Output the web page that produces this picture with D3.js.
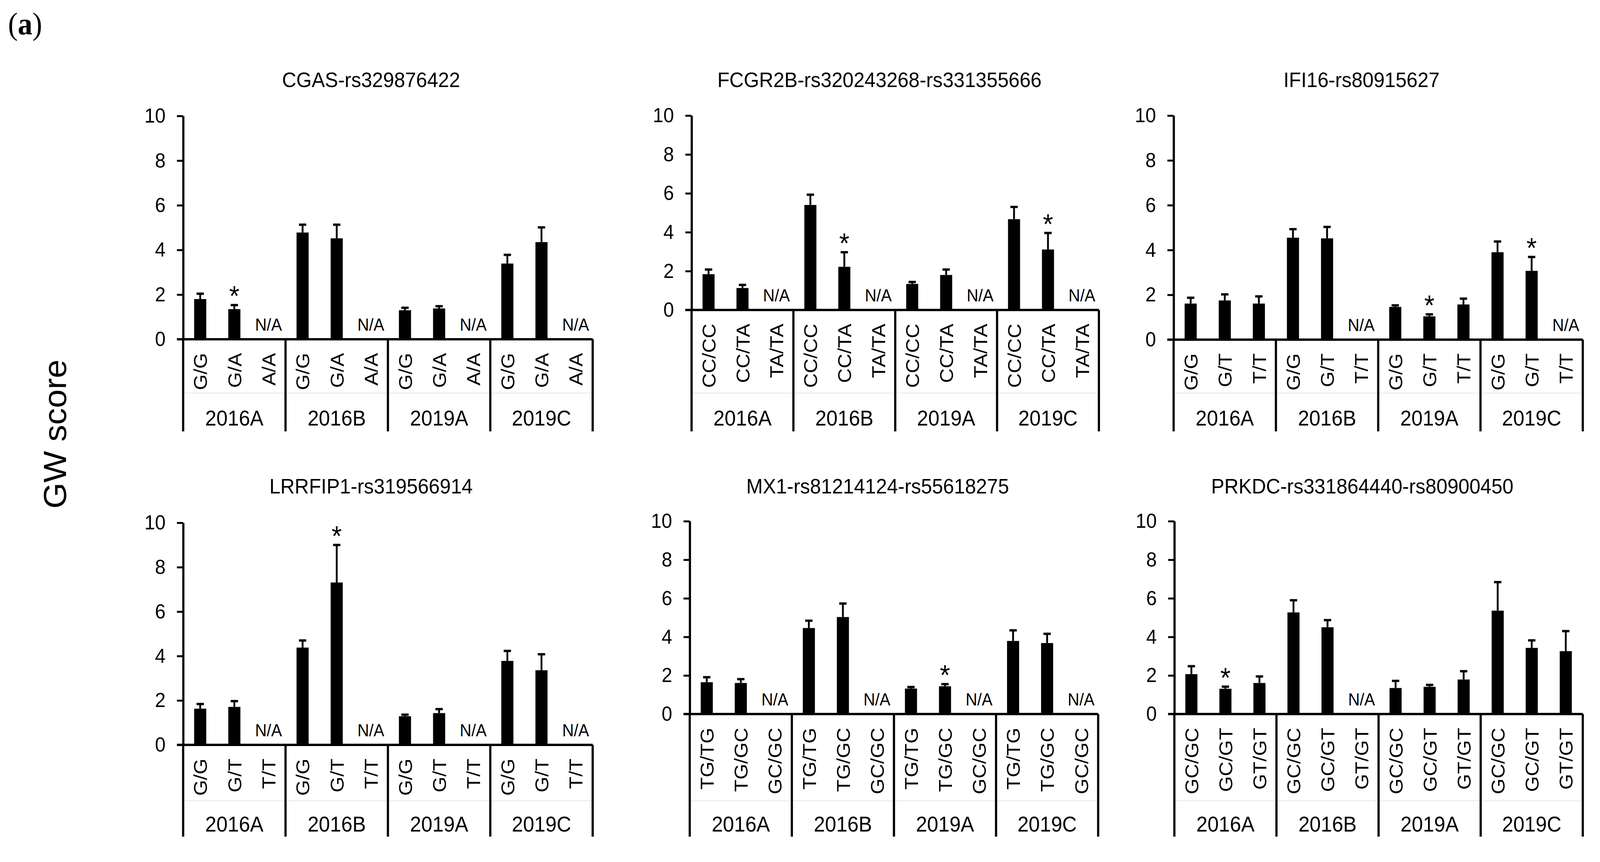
<!doctype html>
<html>
<head>
  <meta charset="utf-8">
  <title>GW score by genotype</title>
  <script src="https://d3js.org/d3.v7.min.js"></script>
  <style>
    html, body { margin: 0; padding: 0; background: #fff; overflow: hidden; width: 100%; height: 100%; }
    #container { width: 100vw; height: 100vh; }
    svg { display: block; }
    svg text { font-family: "Liberation Sans", Arial, sans-serif; fill: #000; }
  </style>
</head>
<body>
<div id="container"></div>
<script>
// ---- data ----
var groups = ["2016A", "2016B", "2019A", "2019C"];
var yTicks = [0, 2, 4, 6, 8, 10];

var titles = [
  "CGAS-rs329876422",
  "FCGR2B-rs320243268-rs331355666",
  "IFI16-rs80915627",
  "LRRFIP1-rs319566914",
  "MX1-rs81214124-rs55618275",
  "PRKDC-rs331864440-rs80900450"
];

var genotypes = [
  ["G/G", "G/A", "A/A"],
  ["CC/CC", "CC/TA", "TA/TA"],
  ["G/G", "G/T", "T/T"],
  ["G/G", "G/T", "T/T"],
  ["TG/TG", "TG/GC", "GC/GC"],
  ["GC/GC", "GC/GT", "GT/GT"]
];

// mean GW score per genotype within each group (null = N/A)
var means = [
  [1.80, 1.35, null, 4.78, 4.52, null, 1.30, 1.38, null, 3.39, 4.35, null],
  [1.84, 1.13, null, 5.40, 2.22, null, 1.34, 1.80, null, 4.67, 3.11, null],
  [1.61, 1.75, 1.61, 4.55, 4.52, null, 1.46, 1.04, 1.57, 3.90, 3.07, null],
  [1.63, 1.71, null, 4.38, 7.31, null, 1.29, 1.43, null, 3.78, 3.36, null],
  [1.65, 1.61, null, 4.46, 5.03, null, 1.32, 1.44, null, 3.79, 3.68, null],
  [2.07, 1.31, 1.61, 5.27, 4.50, null, 1.35, 1.41, 1.79, 5.36, 3.43, 3.26]
];

// standard errors (upper error bar)
var errors = [
  [0.24, 0.18, null, 0.35, 0.61, null, 0.11, 0.10, null, 0.39, 0.66, null],
  [0.24, 0.16, null, 0.53, 0.75, null, 0.10, 0.28, null, 0.63, 0.85, null],
  [0.26, 0.27, 0.32, 0.38, 0.51, null, 0.07, 0.09, 0.26, 0.48, 0.62, null],
  [0.21, 0.26, null, 0.32, 1.69, null, 0.07, 0.18, null, 0.45, 0.72, null],
  [0.26, 0.20, null, 0.38, 0.70, null, 0.08, 0.11, null, 0.55, 0.48, null],
  [0.41, 0.11, 0.34, 0.63, 0.37, null, 0.37, 0.10, 0.43, 1.48, 0.39, 1.04]
];

// bars flagged with an asterisk (index into the 12 bars)
var stars = [[1], [4, 10], [7, 10], [4], [7], [1]];

// ---- layout (pixel frame of each panel, in a 4368 x 2208 drawing space) ----
var W = 4368, H = 2208;
var layout = [
  {x0: 500,  x1: 1618, yTop: 297,  yZero: 869,  yMid: 1007, yEnd: 1105, groupY: 1090, titleY: 223},
  {x0: 1888, x1: 3000, yTop: 296,  yZero: 794,  yMid: 1007, yEnd: 1105, groupY: 1090, titleY: 223},
  {x0: 3204, x1: 4321, yTop: 296,  yZero: 870,  yMid: 1007, yEnd: 1105, groupY: 1090, titleY: 223},
  {x0: 500,  x1: 1618, yTop: 1339, yZero: 1908, yMid: 2051, yEnd: 2143, groupY: 2130, titleY: 1264},
  {x0: 1883, x1: 2998, yTop: 1335, yZero: 1829, yMid: 2051, yEnd: 2143, groupY: 2130, titleY: 1264},
  {x0: 3206, x1: 4321, yTop: 1335, yZero: 1829, yMid: 2051, yEnd: 2143, groupY: 2130, titleY: 1264}
];

// scale the fixed drawing space to whatever the viewport really is
var svg = d3.select("#container").append("svg")
  .attr("width", "100%").attr("height", "100%")
  .attr("viewBox", "0 0 " + W + " " + H)
  .attr("preserveAspectRatio", "none");

svg.append("rect").attr("width", W).attr("height", H).attr("fill", "#fff");

// panel tag
var tag = svg.append("text")
  .attr("x", 22).attr("y", 88)
  .style("font-family", "'Liberation Serif', 'DejaVu Serif', serif")
  .style("font-size", "80px");
tag.append("tspan").text("(");
tag.append("tspan").style("font-weight", "bold").text("a");
tag.append("tspan").text(")");

// shared y label
svg.append("text")
  .attr("transform", "translate(180,1112) rotate(-90)")
  .attr("text-anchor", "middle")
  .style("font-size", "86px")
  .text("GW score");

titles.forEach(function(title, p) {
  var L = layout[p];
  var g = svg.append("g");

  var y = d3.scaleLinear().domain([0, 10]).range([L.yZero, L.yTop]);
  var slots = d3.range(12);
  var x = d3.scaleBand().domain(slots).range([L.x0, L.x1]).paddingInner(0.645).paddingOuter(0.3225);
  var xg = d3.scaleBand().domain(groups).range([L.x0, L.x1]);

  // title
  g.append("text")
    .attr("x", L.x0 + 513).attr("y", L.titleY)
    .attr("text-anchor", "middle")
    .style("font-size", "54px")
    .text(title);

  var rows = slots.map(function(i) {
    return {i: i, m: means[p][i], e: errors[p][i], lab: genotypes[p][i % 3]};
  });
  var present = rows.filter(function(d) { return d.m !== null; });
  var cx = function(d) { return x(d.i) + x.bandwidth() / 2; };

  // bars
  g.selectAll("rect.bar").data(present)
    .enter().append("rect")
    .attr("class", "bar")
    .attr("x", function(d) { return x(d.i); })
    .attr("width", x.bandwidth())
    .attr("y", function(d) { return y(d.m); })
    .attr("height", function(d) { return y(0) - y(d.m); })
    .attr("fill", "#000");

  // error bars (upper only)
  var eb = g.selectAll("g.err").data(present)
    .enter().append("g").attr("class", "err");
  eb.append("line")
    .attr("x1", cx).attr("x2", cx)
    .attr("y1", function(d) { return y(d.m); })
    .attr("y2", function(d) { return y(d.m + d.e); })
    .attr("stroke", "#000").attr("stroke-width", 5);
  eb.append("line")
    .attr("x1", function(d) { return cx(d) - 10; })
    .attr("x2", function(d) { return cx(d) + 10; })
    .attr("y1", function(d) { return y(d.m + d.e); })
    .attr("y2", function(d) { return y(d.m + d.e); })
    .attr("stroke", "#000").attr("stroke-width", 6);

  // N/A labels
  g.selectAll("text.na").data(rows.filter(function(d) { return d.m === null; }))
    .enter().append("text")
    .attr("class", "na")
    .attr("x", cx)
    .attr("y", y(0) - 22)
    .attr("text-anchor", "middle")
    .style("font-size", "44px")
    .text("N/A");

  // significance stars
  g.selectAll("text.star").data(stars[p].map(function(i) { return rows[i]; }))
    .enter().append("text")
    .attr("class", "star")
    .attr("x", cx)
    .attr("y", function(d) { return y(d.m + d.e) + 2; })
    .attr("text-anchor", "middle")
    .style("font-size", "72px")
    .text("*");

  // y axis
  var yAxis = d3.axisLeft(y).tickValues(yTicks).tickSize(17).tickSizeOuter(0).tickPadding(31);
  var ay = g.append("g").attr("transform", "translate(" + L.x0 + ",0)").call(yAxis);
  ay.select(".domain").attr("stroke", "#000").attr("stroke-width", 6);
  ay.selectAll(".tick line").attr("stroke", "#000").attr("stroke-width", 5);
  ay.selectAll(".tick text").style("font-size", "52px").attr("fill", "#000")
    .style("font-family", "'Liberation Sans', Arial, sans-serif");

  // zero line
  g.append("line")
    .attr("x1", L.x0 - 17).attr("x2", L.x1)
    .attr("y1", y(0)).attr("y2", y(0))
    .attr("stroke", "#000").attr("stroke-width", 6);

  // faint divider between the two label levels
  g.append("line")
    .attr("x1", L.x0).attr("x2", L.x1)
    .attr("y1", L.yMid).attr("y2", L.yMid)
    .attr("stroke", "#eeeeee").attr("stroke-width", 3);

  // group separators
  var seps = groups.map(function(gr) { return xg(gr); }).concat([L.x1]);
  g.selectAll("line.sep").data(seps)
    .enter().append("line")
    .attr("class", "sep")
    .attr("x1", function(d) { return d; }).attr("x2", function(d) { return d; })
    .attr("y1", y(0)).attr("y2", L.yEnd)
    .attr("stroke", "#000").attr("stroke-width", 6);

  // genotype labels (rotated)
  g.selectAll("text.geno").data(rows)
    .enter().append("text")
    .attr("class", "geno")
    .attr("transform", function(d) {
      return "translate(" + (cx(d) + 19) + "," + (y(0) + 35) + ") rotate(-90)";
    })
    .attr("text-anchor", "end")
    .style("font-size", "52px")
    .text(function(d) { return d.lab; });

  // group labels
  g.selectAll("text.grp").data(groups)
    .enter().append("text")
    .attr("class", "grp")
    .attr("x", function(d) { return xg(d) + xg.bandwidth() / 2; })
    .attr("y", L.groupY)
    .attr("text-anchor", "middle")
    .style("font-size", "55px")
    .text(function(d) { return d; });
});
</script>
</body>
</html>
